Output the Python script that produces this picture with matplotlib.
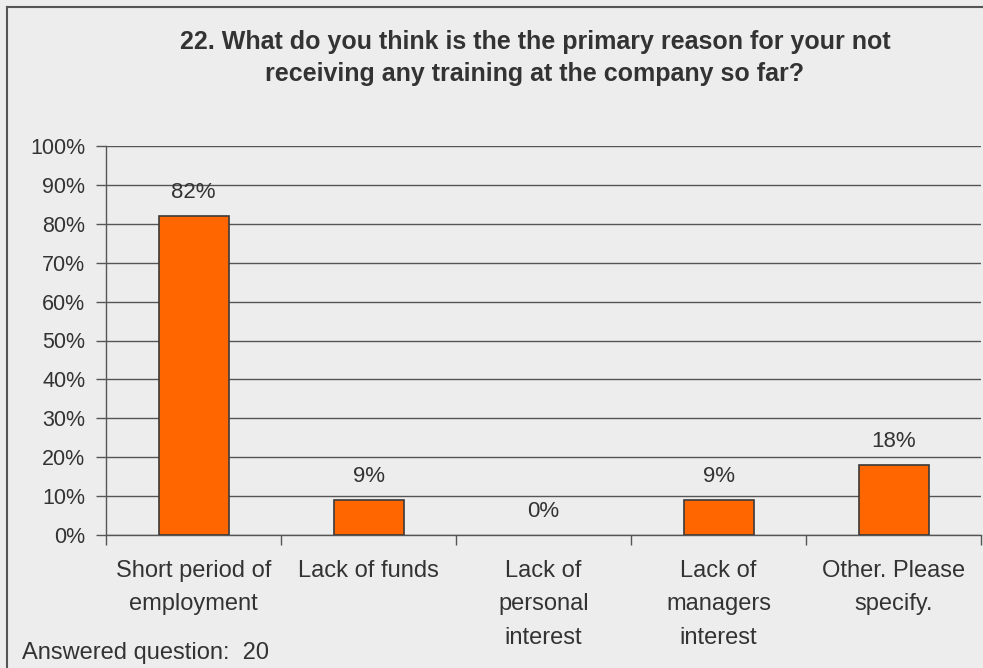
import matplotlib
matplotlib.use("Agg")
import matplotlib.pyplot as plt

categories = ["Short period of\nemployment", "Lack of funds", "Lack of\npersonal\ninterest",
              "Lack of\nmanagers\ninterest", "Other. Please\nspecify."]
values = [82, 9, 0, 9, 18]
yticks = [0, 10, 20, 30, 40, 50, 60, 70, 80, 90, 100]
title = "22. What do you think is the the primary reason for your not\nreceiving any training at the company so far?"
footnote = "Answered question:  20"

bg = "#ededed"
text_color = "#333333"
grid_color = "#555555"

plt.rcParams["font.family"] = ["Liberation Sans", "DejaVu Sans"]

W, H = 983, 668
fig = plt.figure(figsize=(W / 100, H / 100), dpi=100, facecolor=bg)

# outer frame (left and top edges visible)
fig.add_artist(plt.Line2D([7 / W, 7 / W], [0, 1 - 7 / H], transform=fig.transFigure,
                          color="#555555", lw=1.5))
fig.add_artist(plt.Line2D([7 / W, 1], [1 - 7 / H, 1 - 7 / H], transform=fig.transFigure,
                          color="#555555", lw=1.5))

left, right, bottom, top = 106, 981, 535, 146
ax = fig.add_axes([left / W, 1 - bottom / H, (right - left) / W, (bottom - top) / H])
ax.set_facecolor(bg)

n = len(categories)
x = list(range(n))
bars = ax.bar(x, values, width=0.4, color="#ff6600", edgecolor="#3a3a3a", linewidth=1.2, zorder=3)
for b, v in zip(bars, values):
    if v == 0:
        b.set_linewidth(0)
for xi, v in zip(x, values):
    ax.annotate(f"{v}%", (xi, v), xytext=(0, 17), textcoords="offset points",
                ha="center", va="center", fontsize=16, color=text_color)

ax.set_xlim(-0.5, n - 0.5)
ax.set_ylim(0, 100)
ax.set_yticks(yticks)
ax.set_yticklabels([f"{t}%" for t in yticks], fontsize=15.5, color=text_color)
ax.yaxis.grid(True, color=grid_color, linewidth=1, zorder=0)
ax.set_axisbelow(True)

# category boundaries carry the tick marks; labels sit at centers
ax.set_xticks([i - 0.5 for i in range(n + 1)])
ax.set_xticklabels([])
ax.set_xticks(x, minor=True)
ax.set_xticklabels(categories, minor=True, fontsize=17, color=text_color, linespacing=1.67,
                   va="top")
ax.tick_params(axis="x", which="minor", length=0, pad=18)
ax.tick_params(axis="x", which="major", length=7, color=grid_color, width=1)
ax.tick_params(axis="y", length=7, color=grid_color, width=1, pad=8)

for s in ["top", "right"]:
    ax.spines[s].set_visible(False)
for s in ["left", "bottom"]:
    ax.spines[s].set_color(grid_color)
    ax.spines[s].set_linewidth(1)

fig.text(535 / W, 1 - 58 / H, title, ha="center", va="center", fontsize=18,
         fontweight="bold", color=text_color, linespacing=1.4)
fig.text(22 / W, 1 - 653 / H, footnote, ha="left", va="center", fontsize=17, color=text_color)

fig.savefig("out.png", dpi=100, facecolor=bg)
